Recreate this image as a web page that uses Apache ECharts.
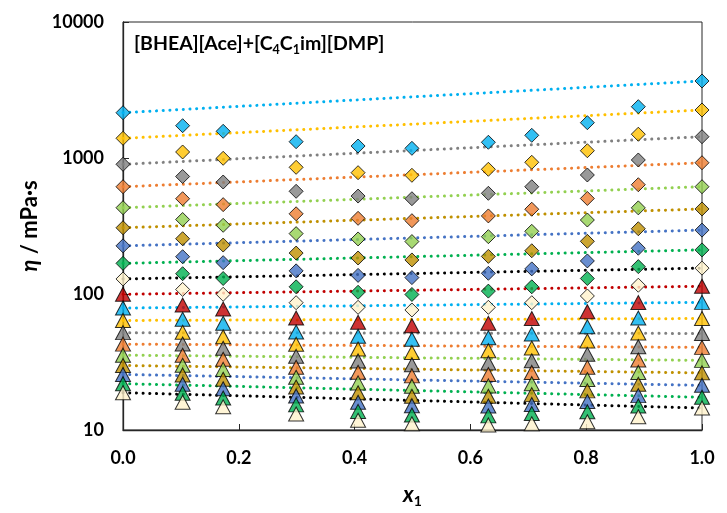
<!DOCTYPE html>
<html>
<head>
<meta charset="utf-8">
<script src="https://cdn.jsdelivr.net/npm/echarts@6/dist/echarts.min.js"></script>
<style>
  html, body { margin: 0; padding: 0; background: #fff; }
  #chart { width: 727px; height: 513px; }
</style>
</head>
<body>
<div id="chart"></div>
<script>
// mole fraction of [BHEA][Ace]
var x1 = [0, 0.103, 0.173, 0.299, 0.406, 0.499, 0.631, 0.706, 0.802, 0.890, 1.0];

// viscosity (mPa·s), one array per temperature, diamonds = lowest temperatures
var dia1 = [2153, 1728, 1572, 1318, 1225, 1178, 1305, 1468, 1818, 2384, 3683];
var dia2 = [1396, 1107, 995, 854, 780, 746, 826, 930, 1131, 1496, 2254];
var dia3 = [899, 731, 666, 569, 525, 502, 550, 615, 750, 967, 1434];
var dia4 = [615, 502, 454, 389, 360, 346, 375, 420, 504, 636, 923];
var dia5 = [431, 353, 320, 278, 254, 243, 264, 289, 350, 430, 615];
var dia6 = [307, 255, 229, 200, 184, 178, 189, 208, 244, 302, 422];
var dia7 = [226, 188, 170, 148, 137, 132, 142, 153, 175, 217, 295];
var dia8 = [168, 141, 130, 113, 103, 99.2, 105, 113, 130, 159, 211];
var dia9 = [129, 108, 99.5, 86.3, 79.8, 76.3, 79.8, 86.3, 96.7, 116, 155];
var tri1 = [99.5, 83.0, 77.6, 66.6, 61.9, 58.5, 60.9, 66.0, 74.1, 86.6, 114];
var tri2 = [78.8, 65.2, 60.9, 52.5, 48.9, 46.5, 47.7, 50.8, 57.5, 66.6, 86.8];
var tri3 = [63.9, 52.3, 48.5, 42.7, 39.4, 37.1, 38.3, 40.1, 45.1, 51.7, 66.0];
var tri4 = [52.0, 42.9, 39.9, 34.8, 32.2, 30.2, 31.1, 32.3, 36.0, 41.0, 51.3];
var tri5 = [42.8, 35.4, 33.1, 28.9, 26.6, 25.0, 25.6, 26.5, 28.9, 32.7, 40.5];
var tri6 = [35.5, 29.9, 27.9, 24.4, 22.2, 21.0, 21.1, 21.9, 23.5, 26.5, 32.5];
var tri7 = [29.8, 25.4, 23.6, 20.7, 18.8, 17.7, 17.7, 18.2, 19.4, 21.7, 26.3];
var tri8 = [25.6, 21.7, 20.1, 17.8, 16.0, 15.1, 15.0, 15.4, 16.2, 17.9, 21.3];
var tri9 = [21.9, 18.6, 17.2, 15.3, 13.7, 12.9, 12.7, 13.2, 13.6, 15.0, 17.4];
var tri10 = [18.8, 16.0, 14.8, 13.1, 11.8, 11.1, 10.9, 11.1, 11.5, 12.5, 14.5];

var xTicks = [0, 0.2, 0.4, 0.6, 0.8, 1.0];
var yTicks = [10, 100, 1000, 10000];

var palette = ['#00B0F0', '#FFC000', '#808080', '#ED7D31', '#92D050', '#BF9000', '#4472C4', '#00B050', '#FFF2CC'];
var groups = [
    {data: dia1, color: palette[0], line: palette[0], symbol: 'diamond'},
    {data: dia2, color: palette[1], line: palette[1], symbol: 'diamond'},
    {data: dia3, color: palette[2], line: palette[2], symbol: 'diamond'},
    {data: dia4, color: palette[3], line: palette[3], symbol: 'diamond'},
    {data: dia5, color: palette[4], line: palette[4], symbol: 'diamond'},
    {data: dia6, color: palette[5], line: palette[5], symbol: 'diamond'},
    {data: dia7, color: palette[6], line: palette[6], symbol: 'diamond'},
    {data: dia8, color: palette[7], line: palette[7], symbol: 'diamond'},
    {data: dia9, color: palette[8], line: '#000000', symbol: 'diamond'},
    {data: tri1, color: '#C00000', line: '#C00000', symbol: 'triangle'},
    {data: tri2, color: palette[0], line: palette[0], symbol: 'triangle'},
    {data: tri3, color: palette[1], line: palette[1], symbol: 'triangle'},
    {data: tri4, color: palette[2], line: palette[2], symbol: 'triangle'},
    {data: tri5, color: palette[3], line: palette[3], symbol: 'triangle'},
    {data: tri6, color: palette[4], line: palette[4], symbol: 'triangle'},
    {data: tri7, color: palette[5], line: palette[5], symbol: 'triangle'},
    {data: tri8, color: palette[6], line: palette[6], symbol: 'triangle'},
    {data: tri9, color: palette[7], line: palette[7], symbol: 'triangle'},
    {data: tri10, color: palette[8], line: '#000000', symbol: 'triangle'}
];

var font = 'Lato, "Open Sans", "Liberation Sans", sans-serif';

var series = [];
// ideal (log-linear) mixing lines between the pure components
groups.forEach(function (g) {
    var n = g.data.length - 1;
    series.push({
        type: 'line',
        data: [[x1[0], g.data[0]], [x1[n], g.data[n]]],
        showSymbol: false,
        silent: true,
        z: 2,
        lineStyle: {color: g.line, width: 3, type: [0.1, 6.6], cap: 'round'}
    });
});
groups.forEach(function (g) {
    series.push({
        type: 'scatter',
        symbol: g.symbol,
        symbolSize: g.symbol === 'diamond' ? 14 : [15, 14],
        clip: false,
        z: 3,
        itemStyle: {color: g.color, borderColor: '#000', borderWidth: 1},
        data: g.data.map(function (v, i) { return [x1[i], v]; })
    });
});

var chart = echarts.init(document.getElementById('chart'));
var option = {
    animation: false,
    textStyle: {fontFamily: font},
    grid: {
        left: 123, right: 25, top: 22, bottom: 83,
        show: true, borderColor: '#262626', borderWidth: 1
    },
    xAxis: {
        type: 'value',
        min: 0, max: 1, interval: 0.2,
        name: '{x|x}{s|1}',
        nameLocation: 'middle',
        nameGap: 51,
        nameTextStyle: {
            rich: {
                x: {fontSize: 22, fontWeight: 'bold', fontStyle: 'italic', color: '#000', fontFamily: font, lineHeight: 27},
                s: {fontSize: 14, fontWeight: 'bold', color: '#000', fontFamily: font, lineHeight: 27, verticalAlign: 'bottom'}
            }
        },
        axisLine: {lineStyle: {color: '#262626', width: 1.3}},
        axisTick: {inside: true, length: 6, lineStyle: {color: '#262626'}},
        splitLine: {show: false},
        axisLabel: {
            margin: 19, fontSize: 18, fontWeight: 'bold', color: '#000',
            formatter: function (v) { return xTicks.indexOf(Math.round(v * 10) / 10) >= 0 ? v.toFixed(1) : ''; }
        }
    },
    yAxis: {
        type: 'log', logBase: 10,
        min: yTicks[0], max: yTicks[yTicks.length - 1],
        name: '{i|η}{n| / mPa·s}',
        nameLocation: 'middle',
        nameRotate: 90,
        nameGap: 82,
        nameTextStyle: {
            rich: {
                i: {fontSize: 22, fontWeight: 'bold', fontStyle: 'italic', color: '#000', fontFamily: font},
                n: {fontSize: 22, fontWeight: 'bold', color: '#000', fontFamily: font}
            }
        },
        axisLine: {show: true, lineStyle: {color: '#262626', width: 1.3}},
        axisTick: {inside: true, length: 6, lineStyle: {color: '#262626'}},
        minorTick: {show: false},
        splitLine: {show: false},
        axisLabel: {
            margin: 19, fontSize: 18, fontWeight: 'bold', color: '#000',
            formatter: function (v) { return String(Math.round(v)); }
        }
    },
    graphic: [{
        type: 'text',
        left: 134,
        top: 34,
        style: {
            text: '{t|[BHEA][Ace]+[C}{s|4}{t|C}{s|1}{t|im][DMP]}',
            rich: {
                t: {fontSize: 19.5, fontWeight: 'bold', fill: '#000', fontFamily: font, lineHeight: 24},
                s: {fontSize: 12.5, fontWeight: 'bold', fill: '#000', fontFamily: font, lineHeight: 24, verticalAlign: 'bottom'}
            }
        }
    }],
    series: series
};
chart.setOption(option);
</script>
</body>
</html>
